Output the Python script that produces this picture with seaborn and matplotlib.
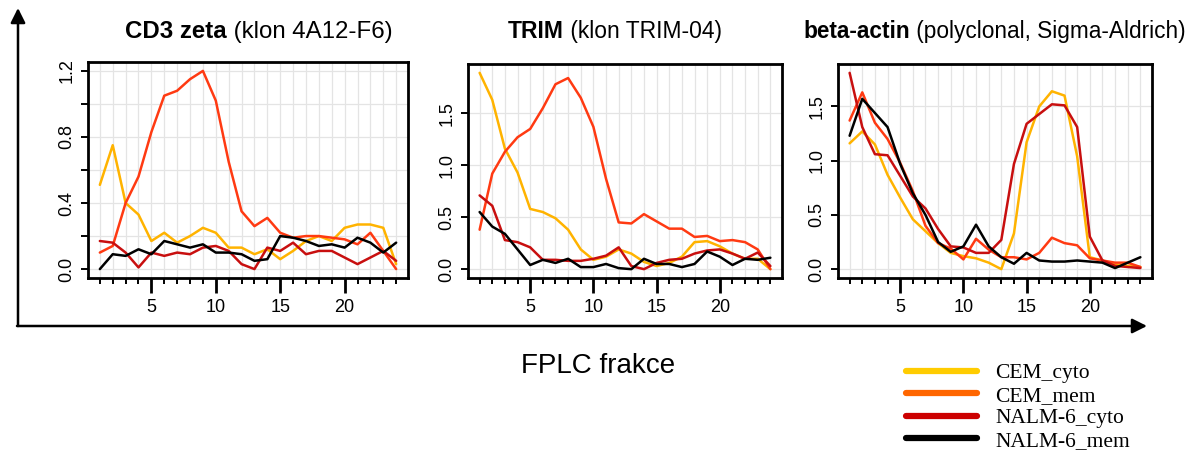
import numpy as np
import pandas as pd
import matplotlib
matplotlib.use("Agg")
import matplotlib.pyplot as plt
import seaborn as sns
from matplotlib.lines import Line2D
from matplotlib.ticker import FixedLocator, MultipleLocator, FormatStrFormatter

# ---------------- data ----------------
fractions = list(range(1, 25))
series_names = ["CEM_cyto", "CEM_mem", "NALM-6_cyto", "NALM-6_mem"]

cd3_cem_cyto = [0.51, 0.75, 0.40, 0.33, 0.17, 0.22, 0.16, 0.20, 0.25, 0.22, 0.13, 0.13,
                0.09, 0.12, 0.06, 0.11, 0.17, 0.20, 0.17, 0.25, 0.27, 0.27, 0.25, 0.03]
cd3_cem_mem = [0.10, 0.14, 0.40, 0.56, 0.83, 1.05, 1.08, 1.15, 1.20, 1.02, 0.65, 0.35,
               0.26, 0.31, 0.22, 0.19, 0.20, 0.20, 0.19, 0.18, 0.15, 0.22, 0.11, 0.00]
cd3_nalm_cyto = [0.17, 0.16, 0.10, 0.01, 0.10, 0.08, 0.10, 0.09, 0.13, 0.14, 0.11, 0.03,
                 0.00, 0.13, 0.11, 0.16, 0.09, 0.11, 0.11, 0.07, 0.03, 0.07, 0.11, 0.05]
cd3_nalm_mem = [0.00, 0.09, 0.08, 0.12, 0.09, 0.17, 0.15, 0.13, 0.15, 0.10, 0.10, 0.09,
                0.05, 0.06, 0.20, 0.19, 0.17, 0.14, 0.15, 0.13, 0.19, 0.16, 0.10, 0.16]

trim_cem_cyto = [1.89, 1.63, 1.16, 0.93, 0.58, 0.55, 0.49, 0.38, 0.19, 0.09, 0.12, 0.19,
                 0.15, 0.07, 0.03, 0.06, 0.12, 0.26, 0.27, 0.22, 0.15, 0.10, 0.10, 0.00]
trim_cem_mem = [0.38, 0.92, 1.13, 1.27, 1.35, 1.55, 1.78, 1.84, 1.65, 1.37, 0.87, 0.45,
                0.44, 0.53, 0.46, 0.39, 0.39, 0.31, 0.32, 0.27, 0.28, 0.26, 0.19, 0.00]
trim_nalm_cyto = [0.71, 0.61, 0.28, 0.26, 0.21, 0.09, 0.09, 0.08, 0.08, 0.10, 0.13, 0.21,
                  0.03, 0.00, 0.06, 0.09, 0.10, 0.15, 0.18, 0.19, 0.15, 0.10, 0.16, 0.03]
trim_nalm_mem = [0.55, 0.41, 0.34, 0.19, 0.04, 0.09, 0.06, 0.10, 0.02, 0.02, 0.05, 0.01,
                 0.00, 0.10, 0.05, 0.05, 0.02, 0.05, 0.17, 0.12, 0.04, 0.10, 0.09, 0.11]

actin_cem_cyto = [1.16, 1.27, 1.15, 0.87, 0.66, 0.46, 0.35, 0.24, 0.15, 0.12, 0.10, 0.06,
                  0.00, 0.33, 1.17, 1.50, 1.64, 1.60, 1.04, 0.11, 0.08, 0.04, 0.03, 0.02]
actin_cem_mem = [1.37, 1.63, 1.35, 1.20, 0.98, 0.72, 0.40, 0.24, 0.19, 0.09, 0.28, 0.18,
                 0.11, 0.11, 0.09, 0.15, 0.29, 0.24, 0.22, 0.10, 0.08, 0.06, 0.06, 0.02]
actin_nalm_cyto = [1.81, 1.31, 1.06, 1.05, 0.86, 0.67, 0.56, 0.37, 0.21, 0.20, 0.15, 0.15,
                   0.27, 0.97, 1.34, 1.43, 1.52, 1.51, 1.31, 0.30, 0.08, 0.03, 0.02, 0.01]
actin_nalm_mem = [1.23, 1.57, 1.44, 1.31, 0.97, 0.70, 0.50, 0.25, 0.16, 0.21, 0.41, 0.21,
                  0.11, 0.05, 0.15, 0.08, 0.07, 0.07, 0.08, 0.07, 0.06, 0.01, 0.06, 0.11]

panel_titles_bold = ["CD3 zeta", "TRIM", "beta-actin"]
panel_titles_rest = [" (klon 4A12-F6)", " (klon TRIM-04)", " (polyclonal, Sigma-Aldrich)"]
x_axis_label = "FPLC frakce"
x_tick_labels = [5, 10, 15, 20]

panels = {
    0: [cd3_cem_cyto, cd3_cem_mem, cd3_nalm_cyto, cd3_nalm_mem],
    1: [trim_cem_cyto, trim_cem_mem, trim_nalm_cyto, trim_nalm_mem],
    2: [actin_cem_cyto, actin_cem_mem, actin_nalm_cyto, actin_nalm_mem],
}

rows = []
for p, series in panels.items():
    for name, vals in zip(series_names, series):
        for f, v in zip(fractions, vals):
            rows.append({"panel": p, "series": name, "fraction": f, "value": v})
df = pd.DataFrame(rows)

# ---------------- style ----------------
sns.set_style("white")
plt.rcParams["font.family"] = ["Liberation Sans", "DejaVu Sans"]
plt.rcParams["text.color"] = "black"
plt.rcParams["xtick.color"] = "black"
plt.rcParams["ytick.color"] = "black"
plt.rcParams["axes.labelcolor"] = "black"

line_colors = {"CEM_cyto": "#FFB300", "CEM_mem": "#FF3A12",
               "NALM-6_cyto": "#C80F0F", "NALM-6_mem": "#000000"}
legend_colors = ["#FFCC00", "#FF6600", "#CC0000", "#000000"]

W, H = 1194, 455
fig = plt.figure(figsize=(W / 100, H / 100), dpi=100)

def px_axes(l, t, r, b):
    return fig.add_axes([l / W, 1 - b / H, (r - l) / W, (b - t) / H])

# overlay for arrows
ax0 = fig.add_axes([0, 0, 1, 1], zorder=0)
ax0.set_xlim(0, W)
ax0.set_ylim(H, 0)
ax0.axis("off")
arrow_kw = dict(arrowstyle="-|>", lw=1.8, color="black", mutation_scale=22,
                shrinkA=0, shrinkB=0)
ax0.annotate("", xy=(18, 8), xytext=(18, 326), arrowprops=arrow_kw)
ax0.annotate("", xy=(1147, 326), xytext=(17, 326), arrowprops=arrow_kw)

boxes = [(88, 62, 408, 278), (468, 64, 782, 278), (838, 64, 1152, 278)]
title_left = [125, 508, 803]
title_sizes = [17.3, 16.5, 16.3]
y_steps = [(0.4, 0.2), (0.5, None), (0.5, None)]

for p in range(3):
    ax = px_axes(*boxes[p])
    ax.set_zorder(2)
    sub = df[df["panel"] == p]
    sns.lineplot(data=sub, x="fraction", y="value", hue="series",
                 hue_order=series_names, palette=line_colors, lw=1.8,
                 legend=False, ax=ax)
    vmax = sub["value"].max()
    vmin = sub["value"].min()
    rng = vmax - vmin
    ax.set_xlim(1 - 0.04 * 23, 24 + 0.04 * 23)
    ax.set_ylim(vmin - 0.045 * rng, vmax + 0.045 * rng)
    ax.set_xlabel("")
    ax.set_ylabel("")

    ax.xaxis.set_major_locator(FixedLocator(x_tick_labels))
    ax.xaxis.set_minor_locator(FixedLocator(fractions))
    major, minor = y_steps[p]
    ax.yaxis.set_major_locator(MultipleLocator(major))
    if minor:
        ax.yaxis.set_minor_locator(MultipleLocator(minor))
    ax.yaxis.set_major_formatter(FormatStrFormatter("%.1f"))

    ax.grid(which="both", axis="x", color="#e4e4e4", lw=0.9)
    ax.grid(which="both", axis="y", color="#e4e4e4", lw=0.9)
    ax.set_axisbelow(True)

    ax.tick_params(axis="x", which="both", bottom=True, top=False)
    ax.tick_params(axis="y", which="both", left=True, right=False)
    ax.tick_params(axis="x", which="major", length=11, width=2.0, direction="out",
                   labelsize=13, pad=4, colors="black")
    ax.tick_params(axis="x", which="minor", length=4.5, width=1.4, direction="out",
                   colors="black")
    ax.tick_params(axis="y", which="both", length=5, width=1.4, direction="out",
                   labelsize=13, pad=4, colors="black")
    for lab in ax.get_yticklabels():
        lab.set_rotation(90)
        lab.set_va("center")

    for s in ax.spines.values():
        s.set_linewidth(2.0)
        s.set_color("black")

    t1 = fig.text(title_left[p] / W, 1 - 38 / H, panel_titles_bold[p],
                  weight="bold", size=title_sizes[p], va="baseline", ha="left")
    ax0.annotate(panel_titles_rest[p], xy=(1, 0), xycoords=t1, va="bottom",
                 ha="left", size=title_sizes[p])

fig.text(598 / W, 1 - 366 / H, x_axis_label, ha="center", va="center", size=20)

handles = [Line2D([0], [0], color=c, lw=4.5) for c in legend_colors]
fig.legend(handles, series_names, loc="upper left",
           bbox_to_anchor=(906 / W, 1 - 363 / H), frameon=False,
           prop={"family": "Liberation Serif", "size": 15.5},
           handlelength=3.3, handletextpad=0.85, labelspacing=0.12,
           borderpad=0, borderaxespad=0)

fig.savefig("out.png", dpi=100)
